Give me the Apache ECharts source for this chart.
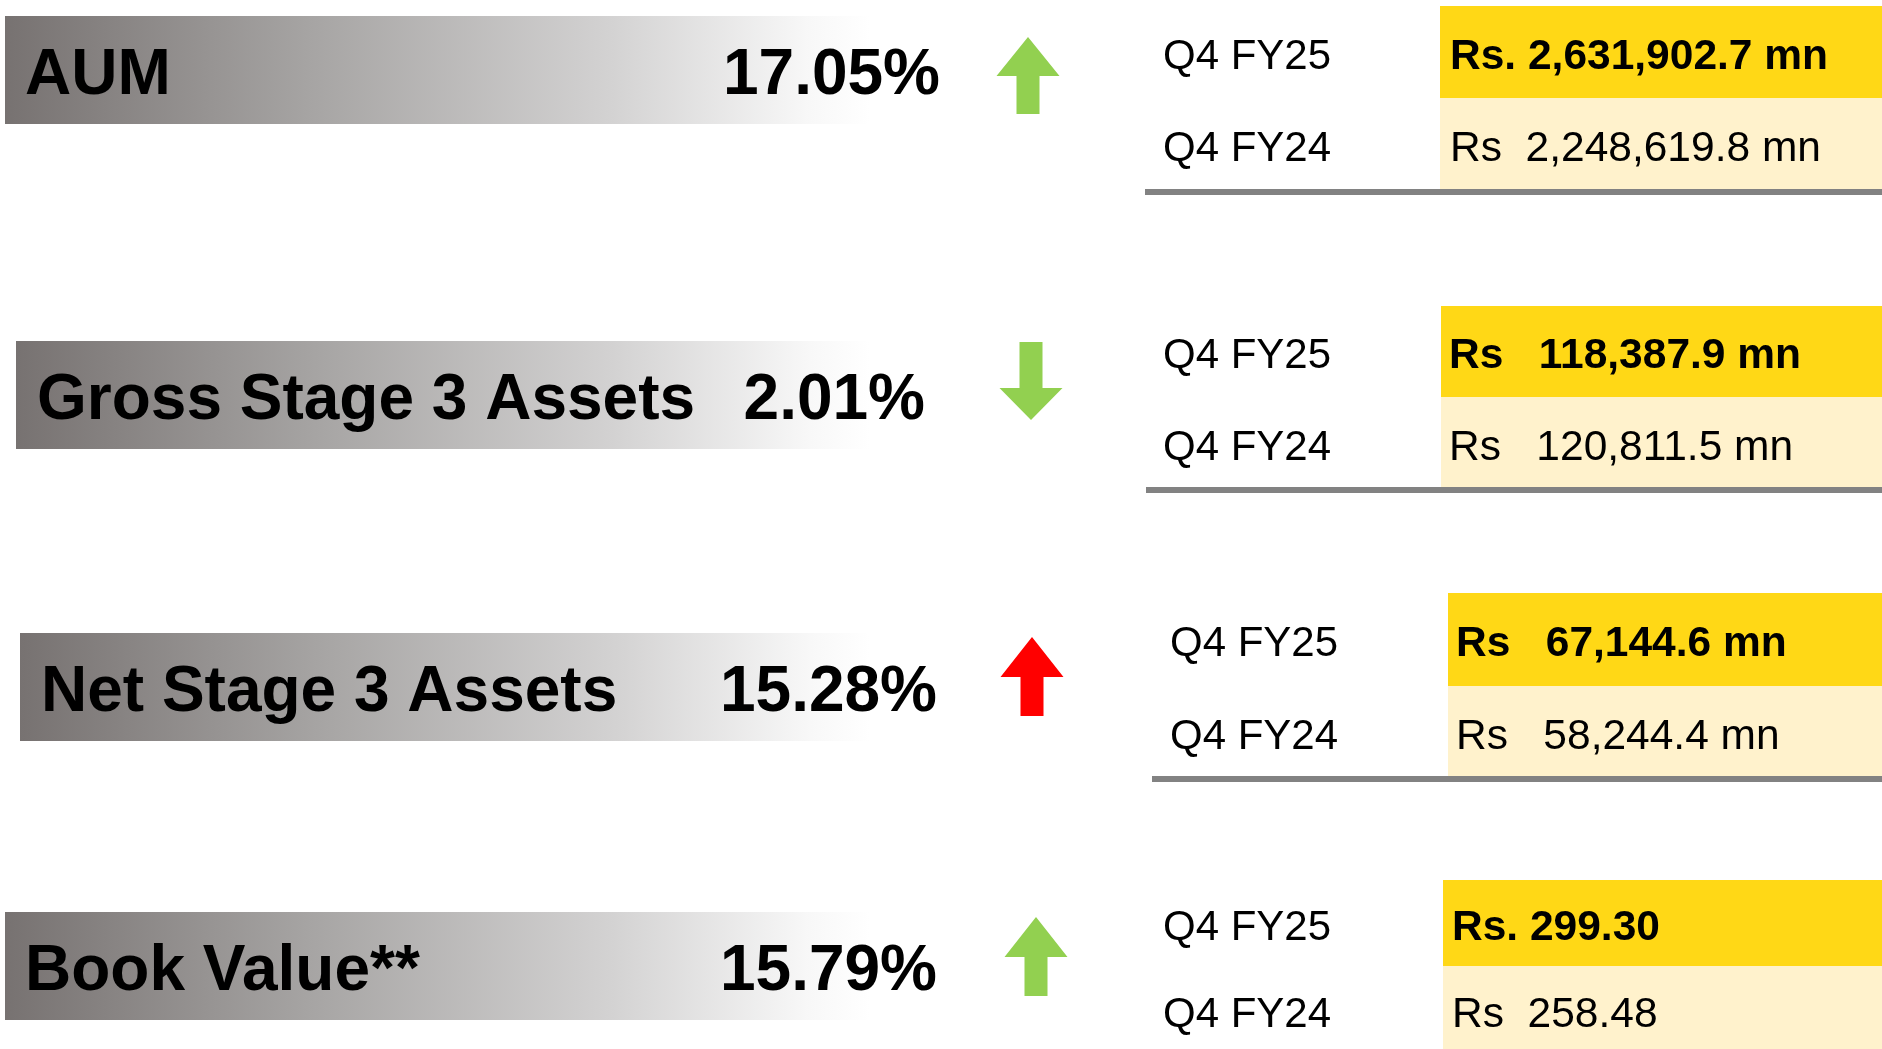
<!DOCTYPE html>
<html>
<head>
<meta charset="utf-8">
<script src="https://cdn.jsdelivr.net/npm/echarts@6/dist/echarts.min.js"></script>
<style>
  html, body { margin: 0; padding: 0; background: #fff; }
  #chart { width: 1882px; height: 1049px; }
</style>
</head>
<body>
<div id="chart"></div>
<script>
// data for the four highlight rows
const metrics = ['AUM', 'Gross Stage 3 Assets', 'Net Stage 3 Assets', 'Book Value**'];
const changePct = ['17.05%', '2.01%', '15.28%', '15.79%'];
const trend = ['up', 'down', 'up', 'up'];
const periods = ['Q4 FY25', 'Q4 FY24'];
const valueFY25 = ['Rs. 2,631,902.7 mn', 'Rs   118,387.9 mn', 'Rs   67,144.6 mn', 'Rs. 299.30'];
const valueFY24 = ['Rs  2,248,619.8 mn', 'Rs   120,811.5 mn', 'Rs   58,244.4 mn', 'Rs  258.48'];

// layout, in page pixels (kept apart from the data)
const barLeft = [5, 16, 20, 5];
const barTop = [16, 341, 633, 912];
const barRight = 870;
const barH = 108;
const labelX = [25, 37, 41, 25];
const pctRight = [940, 925, 937, 937];
const arrowX = [1028, 1031, 1032, 1036];
const arrowTop = [37, 342, 637, 917];
const arrowBottom = [114, 420, 716, 996];
const arrowHead = [39, 32, 40, 40];
const arrowColor = ['#92D050', '#92D050', '#FF0000', '#92D050'];
const tableTop = [6, 306, 593, 880];
const yellowH = [92, 91, 93, 86];
const lightH = [91, 90, 90, 86];
const yellowLeft = [1440, 1441, 1448, 1443];
const ruleLeft = [1145, 1146, 1152, 1145];
const periodX = [1163, 1163, 1170, 1163];
const valueX = [1450, 1449, 1456, 1452];

const FONT = "'Liberation Sans', Arial, sans-serif";

function renderRow(params, api) {
    const i = params.dataIndex;
    const p = (x, y) => api.coord([x, y]);
    const kids = [];

    // gray gradient band
    const b0 = p(barLeft[i], barTop[i]);
    const b1 = p(barRight, barTop[i] + barH);
    kids.push({
        type: 'rect',
        shape: { x: b0[0], y: b0[1], width: b1[0] - b0[0], height: b1[1] - b0[1] },
        style: {
            fill: new echarts.graphic.LinearGradient(0, 0, 1, 0, [
                { offset: 0, color: '#777271' },
                { offset: 0.35, color: '#a6a4a3' },
                { offset: 0.7, color: '#d3d2d2' },
                { offset: 0.93, color: '#f8f8f8' },
                { offset: 1, color: '#ffffff' }
            ])
        }
    });
    const cy = (b0[1] + b1[1]) / 2 + 6;
    kids.push({
        type: 'text',
        style: {
            text: metrics[i], x: p(labelX[i], 0)[0], y: cy,
            fontFamily: FONT, fontSize: 64, fontWeight: 'bold', fill: '#000',
            align: 'left', verticalAlign: 'middle'
        }
    });
    kids.push({
        type: 'text',
        style: {
            text: changePct[i], x: p(pctRight[i], 0)[0], y: cy,
            fontFamily: FONT, fontSize: 64, fontWeight: 'bold', fill: '#000',
            align: 'right', verticalAlign: 'middle'
        }
    });

    // arrow
    const cx = p(arrowX[i], 0)[0];
    const top = p(0, arrowTop[i])[1];
    const bot = p(0, arrowBottom[i])[1];
    const hw = 31.5, sw = 11.5, hh = arrowHead[i];
    let pts;
    if (trend[i] === 'up') {
        pts = [[cx, top], [cx + hw, top + hh], [cx + sw, top + hh], [cx + sw, bot],
               [cx - sw, bot], [cx - sw, top + hh], [cx - hw, top + hh]];
    } else {
        pts = [[cx, bot], [cx + hw, bot - hh], [cx + sw, bot - hh], [cx + sw, top],
               [cx - sw, top], [cx - sw, bot - hh], [cx - hw, bot - hh]];
    }
    kids.push({ type: 'polygon', shape: { points: pts }, style: { fill: arrowColor[i] } });

    // comparison table
    const t0 = tableTop[i];
    const yTop = p(yellowLeft[i], t0);
    const yMid = p(1882, t0 + yellowH[i]);
    const yBot = p(1882, t0 + yellowH[i] + lightH[i]);
    kids.push({
        type: 'rect',
        shape: { x: yTop[0], y: yTop[1], width: yMid[0] - yTop[0], height: yMid[1] - yTop[1] },
        style: { fill: '#FFD816' }
    });
    kids.push({
        type: 'rect',
        shape: { x: yTop[0], y: yMid[1], width: yBot[0] - yTop[0], height: yBot[1] - yMid[1] },
        style: { fill: '#FFF2CC' }
    });
    const r0 = p(ruleLeft[i], 0);
    kids.push({
        type: 'rect',
        shape: { x: r0[0], y: yBot[1], width: yBot[0] - r0[0], height: 6 },
        style: { fill: '#828282' }
    });
    const c1 = (yTop[1] + yMid[1]) / 2 + 5;
    const c2 = (yMid[1] + yBot[1]) / 2 + 6;
    [[periods[0], c1], [periods[1], c2]].forEach(([txt, y]) => {
        kids.push({
            type: 'text',
            style: {
                text: txt, x: p(periodX[i], 0)[0], y: y,
                fontFamily: FONT, fontSize: 42, fill: '#000',
                align: 'left', verticalAlign: 'middle'
            }
        });
    });
    kids.push({
        type: 'text',
        style: {
            text: valueFY25[i], x: p(valueX[i], 0)[0], y: c1,
            fontFamily: FONT, fontSize: 42.5, fontWeight: 'bold', fill: '#000',
            align: 'left', verticalAlign: 'middle'
        }
    });
    kids.push({
        type: 'text',
        style: {
            text: valueFY24[i], x: p(valueX[i], 0)[0], y: c2,
            fontFamily: FONT, fontSize: 42.5, fill: '#000',
            align: 'left', verticalAlign: 'middle'
        }
    });

    return { type: 'group', children: kids };
}

const chart = echarts.init(document.getElementById('chart'), null, { renderer: 'canvas' });
chart.setOption({
    backgroundColor: '#ffffff',
    animation: false,
    grid: { left: 0, right: 0, top: 0, bottom: 0, containLabel: false, outerBoundsMode: 'none' },
    xAxis: { type: 'value', min: 0, max: 1882, show: false },
    yAxis: { type: 'value', min: 0, max: 1049, inverse: true, show: false },
    series: [{
        type: 'custom',
        clip: false,
        renderItem: renderRow,
        data: metrics.map((m, i) => [barLeft[i], barTop[i]])
    }]
});
</script>
</body>
</html>
